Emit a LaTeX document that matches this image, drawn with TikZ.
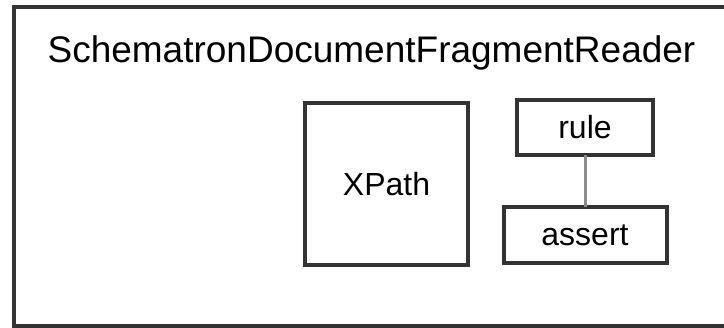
\documentclass[tikz,border=0pt]{standalone}
\usepackage{fontspec}
\setmainfont{Liberation Sans}
\usetikzlibrary{positioning}
\tikzset{
  frame/.style={rectangle, draw=black!80, line width=4pt, inner sep=0pt, outer sep=0pt},
  part/.style={frame, minimum width=163pt, text centered, font=\fontsize{32}{36}\selectfont},
  link/.style={draw=black!45, line width=3pt},
  node distance=52pt
}
\begin{document}
\begin{tikzpicture}[x=1pt,y=1pt]
	\useasboundingbox (0,0) rectangle (724,328);
	\clip (0,0) rectangle (724,328);
	% outer component, its right side runs off the page
	\node[frame, minimum width=760pt, minimum height=319pt, anchor=north west] (reader) at (14,321) {};
	\node[anchor=base, font=\fontsize{37}{44}\selectfont] (title) at (371.5,265) {SchematronDocumentFragmentReader};
	%
	\node[part, minimum height=162pt] (xpath) at (386.5,144) {XPath};
	\node[part, minimum width=136pt, minimum height=55pt] (rule) at (585,200.5) {rule};
	\node[part, minimum height=56pt, below=of rule] (assert) {assert};
	\draw[link] (rule) -- (assert);
\end{tikzpicture}
\end{document}
